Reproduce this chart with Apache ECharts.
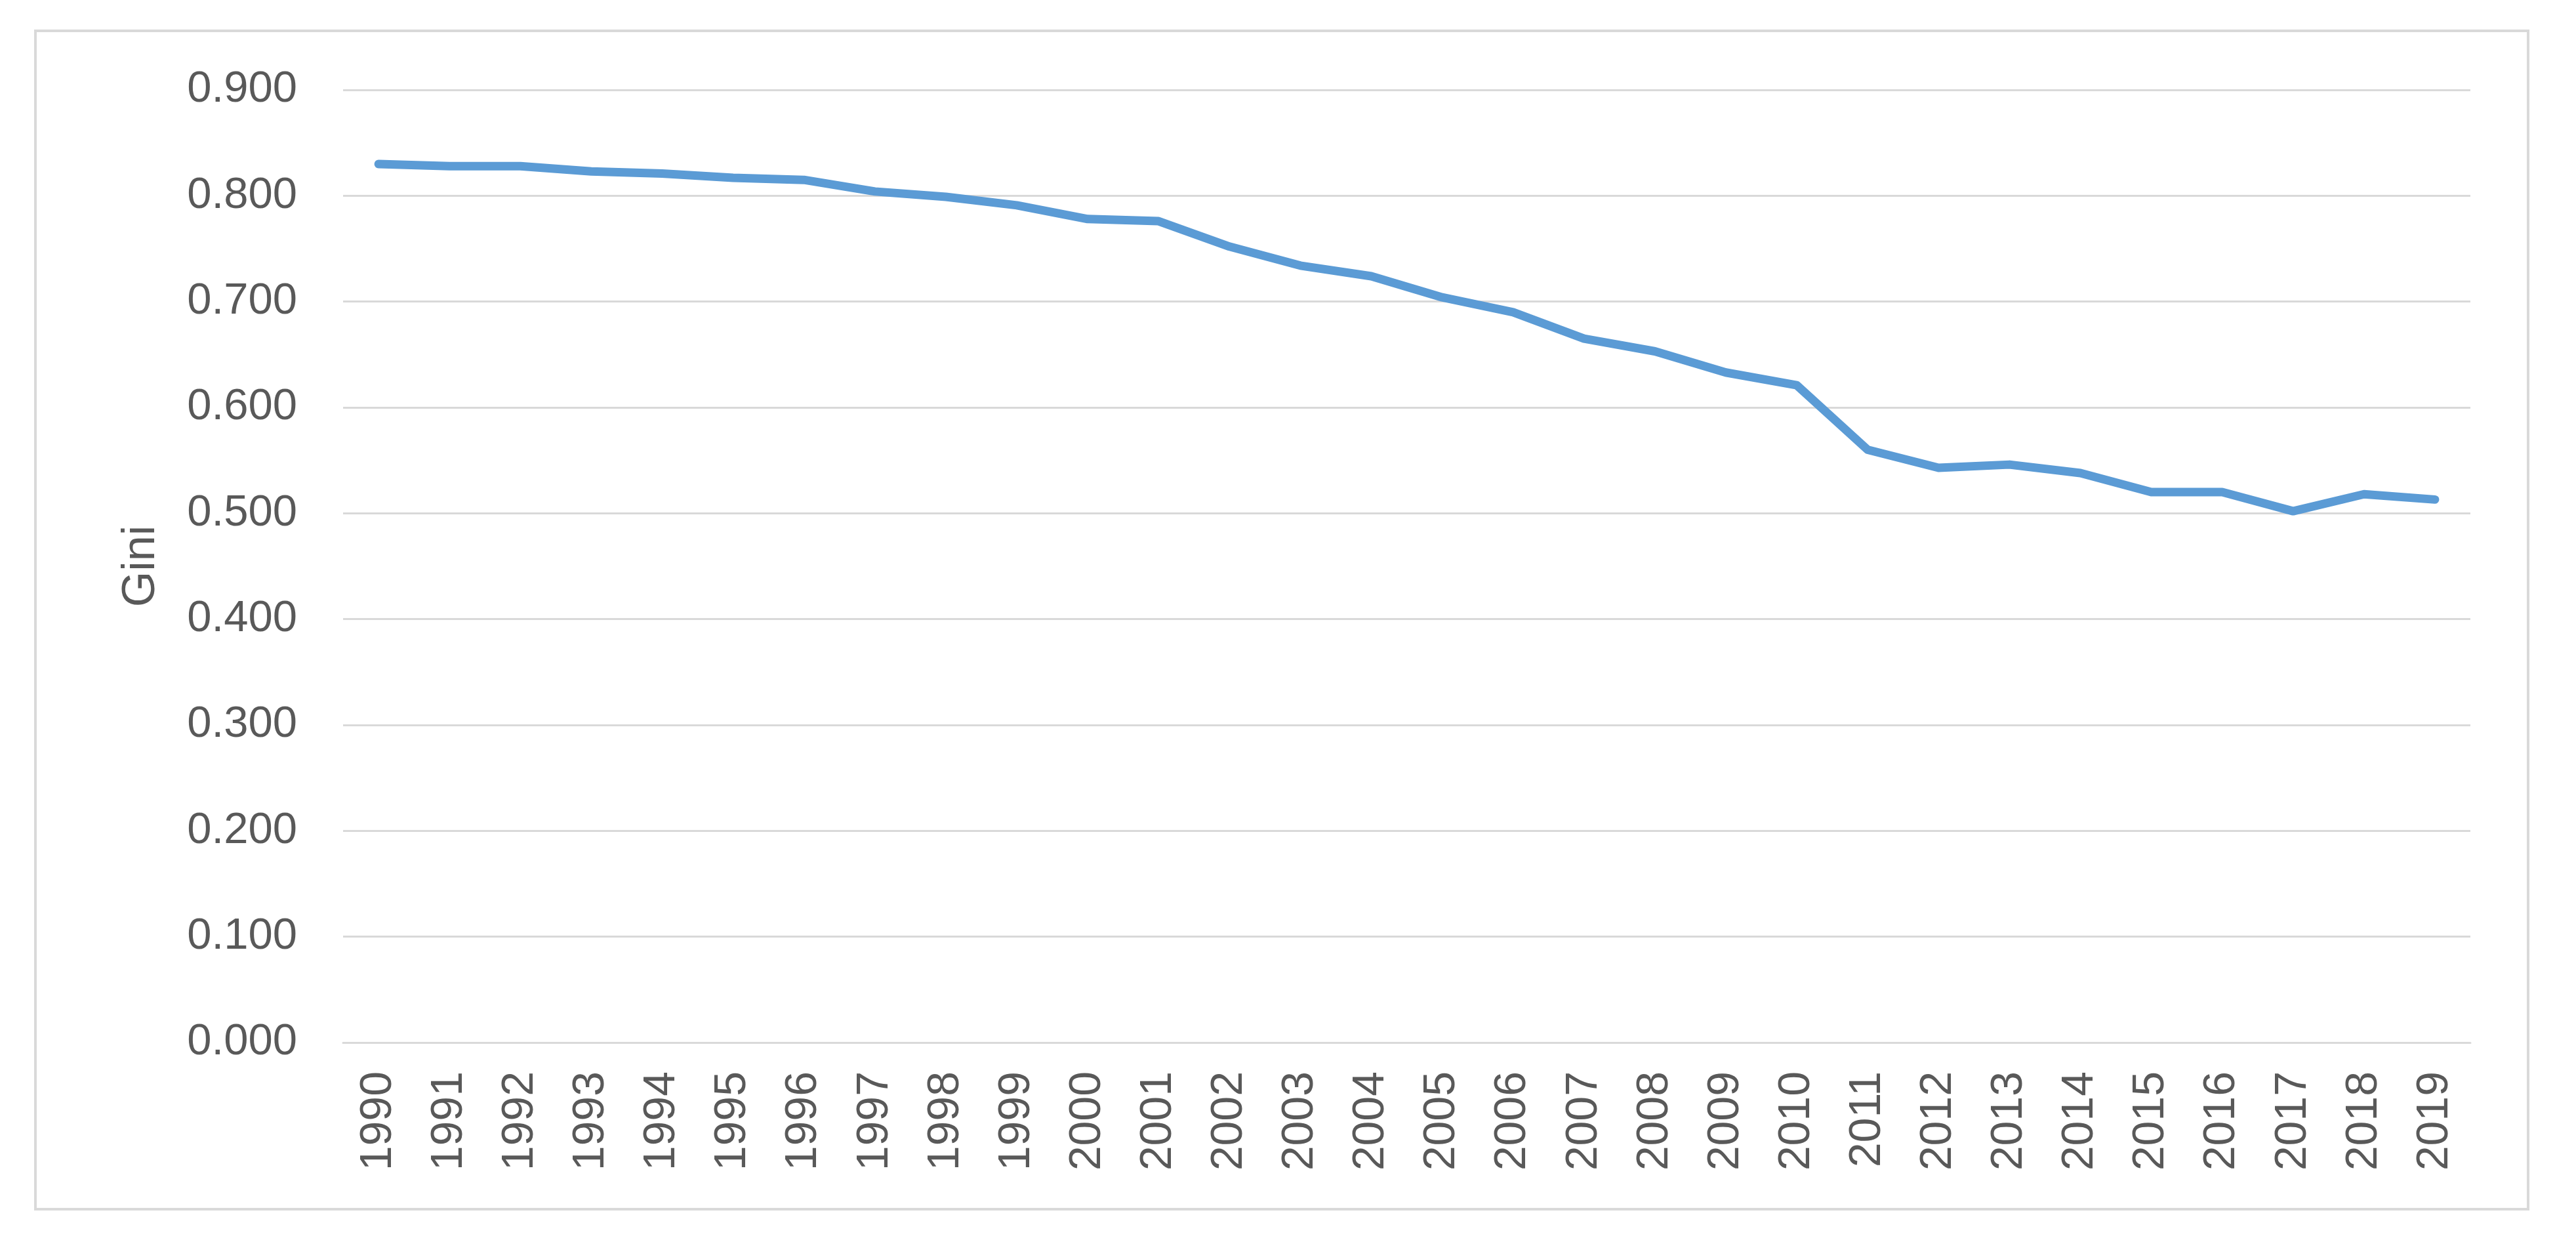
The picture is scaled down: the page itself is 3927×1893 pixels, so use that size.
<!DOCTYPE html>
<html>
<head>
<meta charset="utf-8">
<script src="https://cdn.jsdelivr.net/npm/echarts@6/dist/echarts.min.js"></script>
<style>
html,body{margin:0;padding:0;background:#fff;}
#chart{width:3927px;height:1893px;}
</style>
</head>
<body>
<div id="chart"></div>
<script>
const years = ['1990','1991','1992','1993','1994','1995','1996','1997','1998','1999',
  '2000','2001','2002','2003','2004','2005','2006','2007','2008','2009',
  '2010','2011','2012','2013','2014','2015','2016','2017','2018','2019'];
const gini = [0.830,0.828,0.828,0.823,0.821,0.817,0.815,0.804,0.799,0.791,
  0.778,0.776,0.752,0.734,0.724,0.704,0.690,0.665,0.653,0.633,
  0.621,0.560,0.543,0.546,0.538,0.520,0.520,0.502,0.518,0.513];
const yTicks = {min: 0, max: 0.9, step: 0.1};
const yName = 'Gini';

const FONT = '"Liberation Sans", Arial, sans-serif';
const chart = echarts.init(document.getElementById('chart'), null, {renderer: 'canvas'});
chart.setOption({
  backgroundColor: '#ffffff',
  animation: false,
  graphic: [{
    type: 'rect',
    shape: {x: 54, y: 47, width: 3800, height: 1796},
    style: {fill: 'none', stroke: '#D9D9D9', lineWidth: 4},
    silent: true
  }],
  grid: {left: 523, right: 161, top: 137, bottom: 304, containLabel: false},
  xAxis: {
    type: 'category',
    data: years,
    boundaryGap: true,
    axisLine: {show: true, lineStyle: {color: '#D9D9D9', width: 3}},
    axisTick: {show: false},
    axisLabel: {
      interval: 0, rotate: 90, margin: 44,
      color: '#595959', fontSize: 68, fontFamily: FONT
    },
    splitLine: {show: false}
  },
  yAxis: {
    type: 'value',
    min: yTicks.min, max: yTicks.max, interval: yTicks.step,
    name: yName,
    nameLocation: 'middle',
    nameGap: 272,
    nameTextStyle: {color: '#595959', fontSize: 70, fontFamily: FONT},
    axisLine: {show: false},
    axisTick: {show: false},
    axisLabel: {
      margin: 70, color: '#595959', fontSize: 67, fontFamily: FONT,
      formatter: v => v.toFixed(3)
    },
    splitLine: {show: true, lineStyle: {color: '#D9D9D9', width: 3}}
  },
  series: [{
    type: 'line',
    data: gini,
    symbol: 'none',
    smooth: false,
    lineStyle: {color: '#5B9BD5', width: 13, cap: 'round', join: 'round'},
    itemStyle: {color: '#5B9BD5'}
  }]
});
</script>
</body>
</html>
